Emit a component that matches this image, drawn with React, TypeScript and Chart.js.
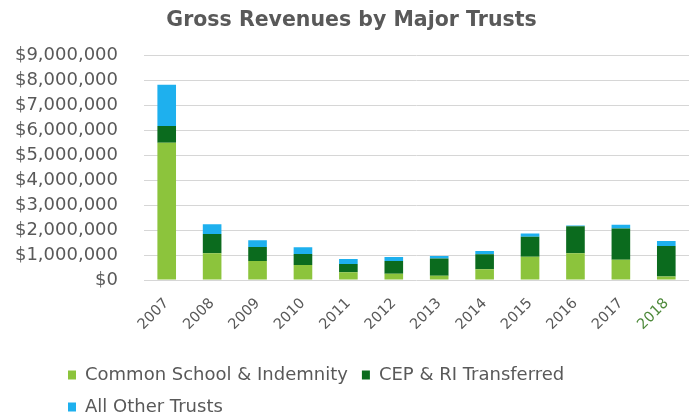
import React, { useEffect, useRef } from "react";
import { Chart, registerables } from "chart.js";

Chart.register(...registerables);

const years = ["2007", "2008", "2009", "2010", "2011", "2012", "2013", "2014", "2015", "2016", "2017", "2018"];
const commonSchool = [5500000, 1070000, 760000, 600000, 310000, 250000, 175000, 430000, 930000, 1070000, 810000, 145000];
const cepRi = [680000, 770000, 560000, 440000, 330000, 510000, 685000, 605000, 800000, 1090000, 1260000, 1220000];
const allOther = [1650000, 400000, 270000, 270000, 200000, 160000, 100000, 125000, 130000, 30000, 150000, 200000];
const seriesNames = ["Common School & Indemnity", "CEP & RI Transferred", "All Other Trusts"];
const titleText = "Gross Revenues by Major Trusts";

const FONT = "'DejaVu Sans', Verdana, sans-serif";
const GRAY = "#595959";

const layoutTweak = {
  id: "layoutTweak",
  afterLayout(chart: any) {
    const lg = chart.legend;
    if (lg) {
      const w = lg.width;
      const h = lg.height;
      lg.left = 54;
      lg.right = lg.left + w;
      lg.top = 352;
      lg.bottom = lg.top + h;
    }
    const t = chart.titleBlock;
    if (t) {
      t.left += 7;
      t.right += 7;
    }
  },
};

export default function App() {
  const ref = useRef<HTMLCanvasElement>(null);
  useEffect(() => {
    if (!ref.current) return;
    const chart = new Chart(ref.current, {
      type: "bar",
      data: {
        labels: years,
        datasets: [
          { label: seriesNames[0], data: commonSchool, backgroundColor: "#8cc43c", borderWidth: 0 },
          { label: seriesNames[1], data: cepRi, backgroundColor: "#0b6b1e", borderWidth: 0 },
          { label: seriesNames[2], data: allOther, backgroundColor: "#1eb0ee", borderWidth: 0 },
        ],
      },
      plugins: [layoutTweak],
      options: {
        responsive: false,
        animation: false,
        layout: { padding: { left: 0, right: 7, top: 0, bottom: 0 } },
        datasets: { bar: { categoryPercentage: 1, barPercentage: 0.41 } },
        plugins: {
          title: {
            display: true,
            text: titleText,
            color: GRAY,
            font: { family: FONT, size: 20.5, weight: "bold" },
            padding: { top: 8, bottom: 23 },
          },
          legend: {
            position: "bottom",
            align: "start",
            fullSize: false,
            labels: {
              color: GRAY,
              font: { family: FONT, size: 18 },
              boxWidth: 8,
              boxHeight: 9,
              padding: 14,
            },
          },
          tooltip: { enabled: false },
        },
        scales: {
          x: {
            stacked: true,
            grid: { display: false, drawTicks: false },
            border: { display: false },
            ticks: {
              color: (ctx: any) => (ctx.index === years.length - 1 ? "#4f8a3c" : GRAY),
              font: { family: FONT, size: 14.5 },
              minRotation: 45,
              maxRotation: 45,
              padding: 15,
            },
            afterFit: (scale: any) => {
              scale.height = 61;
            },
          },
          y: {
            stacked: true,
            min: 0,
            max: 9000000,
            grid: { color: "#d6d6d6", drawTicks: false },
            border: { display: false },
            ticks: {
              stepSize: 1000000,
              color: GRAY,
              padding: 26,
              font: { family: FONT, size: 18 },
              callback: (v: any) => "$" + Number(v).toLocaleString("en-US"),
            },
            afterFit: (scale: any) => {
              scale.width = 144;
            },
          },
        },
      },
    });
    return () => chart.destroy();
  }, []);
  return (
    <canvas
      ref={ref}
      width={696}
      height={415}
      style={{ position: "absolute", left: 0, top: 0, width: 696, height: 415 }}
    />
  );
}
